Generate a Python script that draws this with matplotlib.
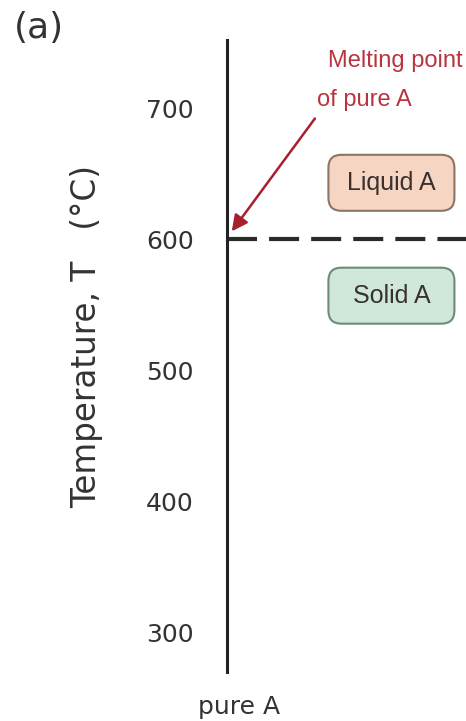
import matplotlib
matplotlib.use("Agg")
import matplotlib.pyplot as plt
from matplotlib.patches import FancyBboxPatch
from matplotlib import transforms

# data
temp_ticks = [300, 400, 500, 600, 700]
melting_point = 600          # pure A, in C
phase_labels = ["Liquid A", "Solid A"]
phase_temps = [643, 557]     # where the phase boxes sit
phase_fill = ["#f6d6c2", "#cfe8d9"]
phase_edge = ["#8c7466", "#6e8a7c"]
comp_label = "pure A"

fig = plt.figure(figsize=(4.66, 7.21), dpi=100)
ax = fig.add_axes([0.487, 0.068, 0.513, 0.8765])
ax.set_xlim(0, 1)
ax.set_ylim(270.3, 751.8)

for s in ["top", "right", "bottom"]:
    ax.spines[s].set_visible(False)
ax.spines["left"].set_linewidth(2.2)
ax.spines["left"].set_color("#222222")

ax.set_xticks([])
ax.set_yticks(temp_ticks)
ax.tick_params(axis="y", length=0, pad=24, labelsize=18, labelcolor="#333333")

ax.set_ylabel("Temperature, T   (\u00b0C)", fontsize=23.5, color="#333333")
ax.yaxis.set_label_coords(-0.52, 0.531)

# melting point line
ax.axhline(melting_point, color="#2a2a2a", lw=3, dashes=(7.2, 2.9))

ytr = ax.get_yaxis_transform()

# phase boxes, fixed size (inches) centred on the label position
for lab, t, fc, ec in zip(phase_labels, phase_temps, phase_fill, phase_edge):
    tr = fig.dpi_scale_trans + transforms.ScaledTranslation(0.688, t, ytr)
    box = FancyBboxPatch((-0.5, -0.15), 1.0, 0.30,
                         boxstyle="round,pad=0.13,rounding_size=0.13",
                         transform=tr, fc=fc, ec=ec, lw=1.5)
    ax.add_patch(box)
    ax.text(0.688, t, lab, transform=ytr, ha="center", va="center",
            fontsize=18, family="Liberation Sans", color="#3a3030")

# red annotation
red = "#b8343f"
ax.text(0.423, 731.2, "Melting point", transform=ytr, ha="left", va="baseline",
        fontsize=17, family="Liberation Sans", color=red)
ax.text(0.377, 701.5, "of pure A", transform=ytr, ha="left", va="baseline",
        fontsize=17, family="Liberation Sans", color=red)
ax.annotate("", xy=(0.02, 606), xycoords=ytr, xytext=(0.368, 692), textcoords=ytr,
            arrowprops=dict(arrowstyle="-|>", color="#a8202e", lw=1.8, mutation_scale=24,
                            shrinkA=0, shrinkB=0))

ax.text(0.05, -0.055, comp_label, transform=ax.transAxes, ha="center", va="center",
        fontsize=18, color="#333333")

fig.text(0.084, 0.961, "(a)", ha="center", va="center", fontsize=26, color="#333333")

fig.savefig("out.png", dpi=100)
